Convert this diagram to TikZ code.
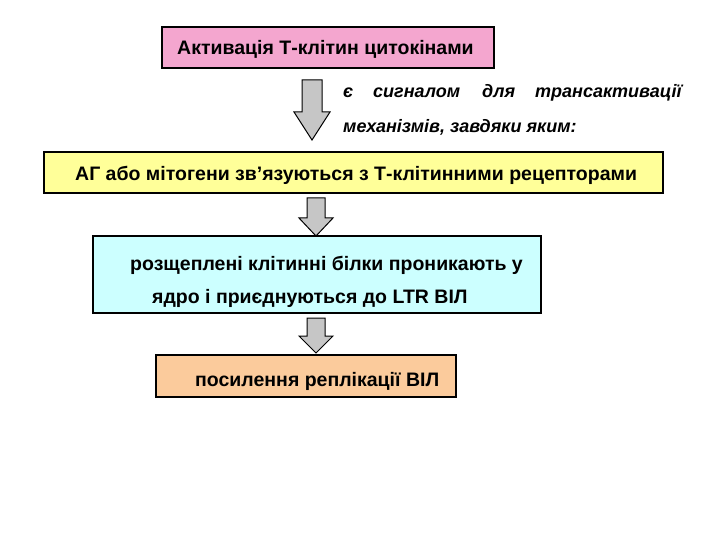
\documentclass[tikz,border=0pt]{standalone}
\usepackage{fontspec}
\setmainfont{Liberation Sans}
\begin{document}
\begin{tikzpicture}[x=1pt,y=-1pt,
  box/.style={draw=black,line width=1.5pt,inner sep=0pt},
  lbl/.style={font=\bfseries\fontsize{19.5}{22}\selectfont,anchor=base west,inner sep=0pt},
  ilbl/.style={font=\bfseries\itshape\fontsize{18}{22}\selectfont,anchor=base west,inner sep=0pt},
  barrow/.style={draw=black,line width=1pt,fill=gray!45}]
\useasboundingbox (0,0) rectangle (720,540);
\definecolor{pinkc}{HTML}{F4A6CF}
\definecolor{yelc}{HTML}{FFFF99}
\definecolor{cyanc}{HTML}{CCFFFF}
\definecolor{orc}{HTML}{FBCB9C}
\filldraw[box,fill=pinkc] (162,27) rectangle (494,68);
\node[lbl] (t1) at (177,55) {Активація Т-клітин цитокінами};
\draw[barrow] (302,80) -- (322,80) -- (322,112) -- (330,112) -- (312,140) -- (294,112) -- (302,112) -- cycle;
\node[ilbl] (s1) at (343,98) {є};
\node[ilbl] (s2) at (373,98) {сигналом};
\node[ilbl] (s3) at (482,98) {для};
\node[ilbl] (s4) at (535,98) {трансактивації};
\node[ilbl] (s5) at (343,133) {механізмів, завдяки яким:};
\filldraw[box,fill=yelc] (44,152) rectangle (663,193);
\node[lbl] (t2) at (75,181) {АГ або мітогени зв’язуються з Т-клітинними рецепторами};
\draw[barrow] (307,198) -- (325,198) -- (325,218) -- (333,218) -- (316,236) -- (299,218) -- (307,218) -- cycle;
\filldraw[box,fill=cyanc] (93,236) rectangle (541,313);
\node[lbl] (t3) at (130,270) {розщеплені клітинні білки проникають у};
\node[lbl] (t4) at (152,303) {ядро і приєднуються до LTR ВІЛ};
\draw[barrow] (307,318) -- (325,318) -- (325,336) -- (333,336) -- (316,353) -- (299,336) -- (307,336) -- cycle;
\filldraw[box,fill=orc] (156,355) rectangle (456,397);
\node[lbl] (t5) at (195,386) {посилення реплікації ВІЛ};
\end{tikzpicture}
\end{document}
